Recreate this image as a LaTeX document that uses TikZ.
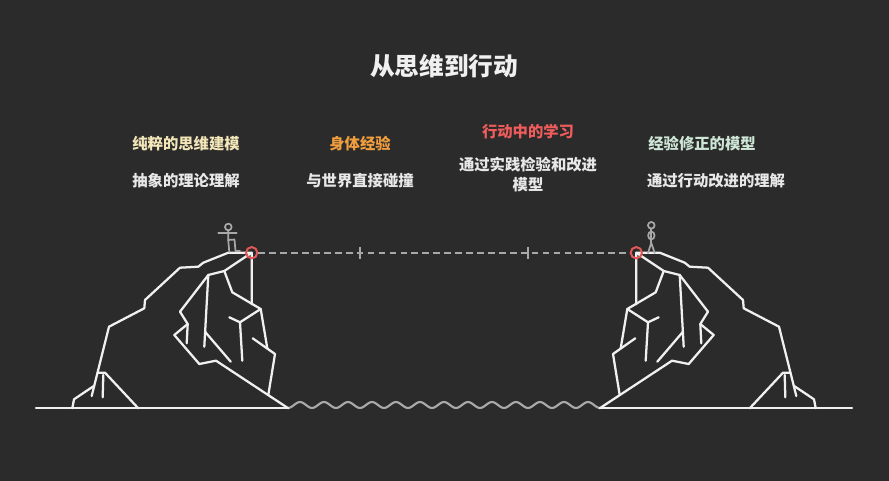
\documentclass[tikz,border=0pt]{standalone}
\usepackage{fontspec}
\setmainfont{Noto Sans CJK SC}
\definecolor{bgdark}{RGB}{43,43,43}
\definecolor{rockwhite}{RGB}{240,240,240}
\definecolor{mistgray}{RGB}{168,168,168}
\definecolor{goalred}{RGB}{226,88,88}
\definecolor{creamtext}{RGB}{243,230,184}
\definecolor{orangetext}{RGB}{240,158,62}
\definecolor{redtext}{RGB}{240,92,92}
\definecolor{greentext}{RGB}{206,230,214}
\definecolor{plaintext}{RGB}{232,232,232}
\begin{document}
\begin{tikzpicture}[x=0.75pt,y=-0.75pt,
    rock/.style={draw=rockwhite,line width=1.7pt,line cap=round,line join=round},
    walker/.style={draw=mistgray,line width=1.3pt,line cap=round,line join=round},
    goal/.style={circle,draw=goalred,line width=1.5pt,minimum size=8.5pt,inner sep=0pt},
    head/.style={font=\fontsize{11.5}{14}\selectfont\bfseries},
    sub/.style={font=\fontsize{11.5}{15}\selectfont\bfseries,text=plaintext,align=center}]
        \fill[bgdark] (0,0) rectangle (889,481);
        % title
        \node[text=rockwhite,font=\fontsize{18.5}{22}\selectfont\bfseries] (title) at (444,66) {从思维到行动};
        % labels
        \node[head,text=creamtext] (pure) at (186,144) {纯粹的思维建模};
        \node[sub] (pureSub) at (186,181) {抽象的理论理解};
        \node[head,text=orangetext] (body) at (360,144) {身体经验};
        \node[sub] (bodySub) at (360,181) {与世界直接碰撞};
        \node[head,text=redtext] (learn) at (528,132) {行动中的学习};
        \node[sub] (learnSub) at (528,175) {通过实践检验和改进\\模型};
        \node[head,text=greentext] (fixed) at (702,144) {经验修正的模型};
        \node[sub] (fixedSub) at (716,181) {通过行动改进的理解};
        % ground and water
        \draw[rock] (36,408.3) -- (288,408.3);
        \draw[rock] (600,408.3) -- (852,408.3);
        \draw[draw=mistgray,line width=1.6pt] plot[domain=288:600,samples=157] (\x,{405+3*cos(15*(\x-288))});
        % left cliff, then its mirror
        \foreach \side in {1,-1}{
        \begin{scope}[shift={({444-444*\side},0)},xscale=\side]
        \draw[rock] (91.7,396) -- (109,326.7) -- (144.3,308.3) -- (145,300) -- (180,267.7)
            -- (198.3,266.7) -- (203.3,262.7) -- (228.3,252.7) -- (251.7,252.7) -- (251.7,304.3);
        \draw[rock] (72.3,408.3) -- (74,399.3) -- (94.3,385.7);
        \draw[rock] (97.7,372.7) -- (105,372.7) -- (138.3,408.3);
        \draw[rock] (103.3,375) -- (102.7,397.3);
        \draw[rock] (251.7,252.7) -- (224.3,271) -- (208.3,275) -- (180,311.7) -- (187.7,324)
            -- (174.3,335) -- (199.3,364) -- (216,360.7) -- (288.3,408.3);
        \draw[rock] (187.7,324) -- (186.7,343.3);
        \draw[rock] (208.3,275) -- (204.3,346.7);
        \draw[rock] (205,331.7) -- (230.7,361.7);
        \draw[rock] (224.3,271) -- (232.3,292.3) -- (260.7,309) -- (267.3,348.3);
        \draw[rock] (252.7,338.3) -- (275,354) -- (268.3,395);
        \draw[rock] (229.3,317.3) -- (240,322.3) -- (260.7,309);
        \draw[rock] (240,322.3) -- (242.3,360.7);
        \end{scope}}
        % figures
        \draw[walker] (228.3,227) circle[radius=2.5pt];
        \draw[walker] (218.3,233) -- (236.7,233);
        \draw[walker] (228.3,230.3) -- (228.3,241) -- (229.3,252);
        \draw[walker] (228.3,240) -- (234.5,239.5) -- (235.5,251) -- (240,251);
        \draw[walker] (651.3,225.3) circle[radius=2.5pt];
        \draw[walker] (651.3,235.5) ellipse[x radius=2.4pt,y radius=3pt];
        \draw[walker] (651.3,228.6) -- (651.3,243);
        \draw[walker] (648,253) -- (651.3,243) -- (654.7,253);
        % path between the cliff tops
        \node[goal] (lgoal) at (251.7,252.7) {};
        \node[goal] (rgoal) at (636.3,252.7) {};
        \draw[mistgray,line width=1.5pt,dash pattern=on 5pt off 3.2pt] (lgoal) -- (rgoal);
        \coordinate (tickA) at (360,252.7);
        \coordinate (tickB) at (528,252.7);
        \foreach \t in {tickA,tickB}
            \draw[mistgray,line width=1.5pt] ([yshift=4.5pt]\t) -- ([yshift=-4.5pt]\t);
        \end{tikzpicture}
\end{document}
